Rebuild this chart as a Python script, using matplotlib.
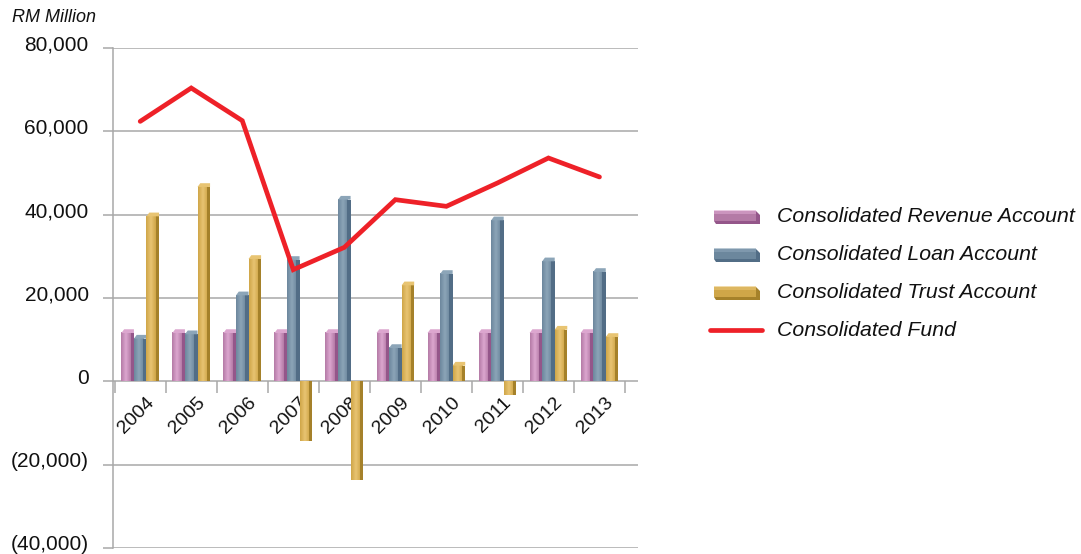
import matplotlib
matplotlib.use("Agg")
import matplotlib.pyplot as plt
import numpy as np
from matplotlib.colors import LinearSegmentedColormap
from matplotlib.transforms import ScaledTranslation
from matplotlib.patches import Rectangle, Polygon

plt.rcParams['font.family'] = ['Liberation Sans', 'DejaVu Sans']

years = ['2004', '2005', '2006', '2007', '2008', '2009', '2010', '2011', '2012', '2013']
revenue = [11600, 11600, 11600, 11600, 11600, 11600, 11600, 11600, 11600, 11600]
loan = [10250, 11300, 20640, 29130, 43600, 8000, 25770, 38640, 28800, 26250]
trust = [39600, 46650, 29370, -14230, -23590, 23040, 3770, -3360, 12400, 10650]
fund = [62390, 70400, 62560, 26800, 32150, 43600, 42000, 47600, 53600, 49050]
series_names = ['Consolidated Revenue Account', 'Consolidated Loan Account',
                'Consolidated Trust Account', 'Consolidated Fund']
yticks = [-40000, -20000, 0, 20000, 40000, 60000, 80000]
ytick_labels = ['(40,000)', '(20,000)', '0', '20,000', '40,000', '60,000', '80,000']

palettes = [
    ('#b47aa6', '#dca6cf', '#94568a'),
    ('#6c879d', '#8ca5b8', '#526d86'),
    ('#cfa648', '#e8c472', '#a5812a'),
]
red = '#ee2128'
grid_c = '#a8a8a8'

W, H = 1081, 554
fig = plt.figure(figsize=(W / 100, H / 100), dpi=100)
ax = fig.add_axes([113 / W, 6 / H, (638 - 113) / W, (548 - 48) / H])
ax.set_ylim(-40000, 80000)
ax.set_xlim(-0.533, 9.755)

x = np.arange(len(years))
bw = 0.246
offsets = [-bw, 0, bw]

def draw_bar(xc, val, pal):
    left = xc - bw / 2
    front_w = bw * 0.74
    mid, light, dark = pal
    cmap = LinearSegmentedColormap.from_list('g', [mid, light, mid])
    grad = np.linspace(0, 1, 64).reshape(1, -1)
    y0, y1 = (0, val) if val >= 0 else (val, 0)
    ax.imshow(grad, cmap=cmap, aspect='auto', extent=[left, left + front_w, y0, y1],
              origin='lower', zorder=2, interpolation='bilinear')
    ax.add_patch(Rectangle((left + front_w, y0), bw - front_w, y1 - y0,
                           facecolor=dark, edgecolor='none', zorder=2))
    cap = 900
    if val >= 0:
        ax.add_patch(Polygon([[left, val], [left + front_w * 0.3, val + cap],
                              [left + bw, val + cap], [left + bw, val]],
                             closed=True, facecolor=light, edgecolor='none', zorder=2))

for si, vals in enumerate([revenue, loan, trust]):
    for i, v in enumerate(vals):
        draw_bar(x[i] + offsets[si], v, palettes[si])

ax.plot(x, fund, color=red, lw=3.4, zorder=4, solid_capstyle='round', solid_joinstyle='miter')

ax.set_yticks(yticks)
ax.set_yticklabels(ytick_labels)
for yv in yticks:
    ax.axhline(yv, color=grid_c, lw=1.1, zorder=1)
for s in ['top', 'right', 'bottom']:
    ax.spines[s].set_visible(False)
ax.spines['left'].set_color(grid_c)
ax.spines['left'].set_linewidth(1.1)
ax.tick_params(axis='y', length=7.5, width=1.1, color=grid_c, pad=10, labelsize=15,
               labelcolor='#111111')
ax.set_xticks([])
up = ScaledTranslation(0, 5 / 100, fig.dpi_scale_trans)
for lbl in ax.get_yticklabels():
    lbl.set_transform(lbl.get_transform() + up)

tick_len = 12 / 83.35 * 20000
ax.vlines(np.arange(len(years) + 1) - 0.5, -tick_len, 0, color=grid_c, lw=1.1, zorder=1)

off = ScaledTranslation(5 / 100, -13 / 100, fig.dpi_scale_trans)
for i, yr in enumerate(years):
    ax.text(x[i], 0, yr, rotation=45, ha='right', va='top', rotation_mode='anchor',
            fontsize=14, color='#111111', transform=ax.transData + off, zorder=1.5)

fig.text(12 / W, 1 - 17 / H, 'RM Million', fontsize=13, style='italic', color='#111111',
         va='center', ha='left')

lax = fig.add_axes([0, 0, 1, 1])
lax.set_xlim(0, W)
lax.set_ylim(H, 0)
lax.axis('off')
rows = [217, 255, 293, 330]
for si in range(3):
    mid, light, dark = palettes[si]
    yc = rows[si]
    lax.add_patch(Rectangle((714, yc - 6), 42, 10, facecolor=mid, edgecolor='none'))
    lax.add_patch(Rectangle((714, yc - 7), 42, 4, facecolor=light, edgecolor='none', alpha=0.6))
    lax.add_patch(Polygon([[756, yc - 6], [760, yc - 2], [760, yc + 7], [716, yc + 7], [714, yc + 4], [756, yc + 4]],
                          closed=True, facecolor=dark, edgecolor='none'))
lax.plot([710, 762], [rows[3], rows[3]], color=red, lw=3.4, solid_capstyle='round')
for name, yc in zip(series_names, rows):
    lax.text(777, yc, name, fontsize=15.3, style='italic', va='center', ha='left', color='#111111')

fig.savefig('out.png', dpi=100)
